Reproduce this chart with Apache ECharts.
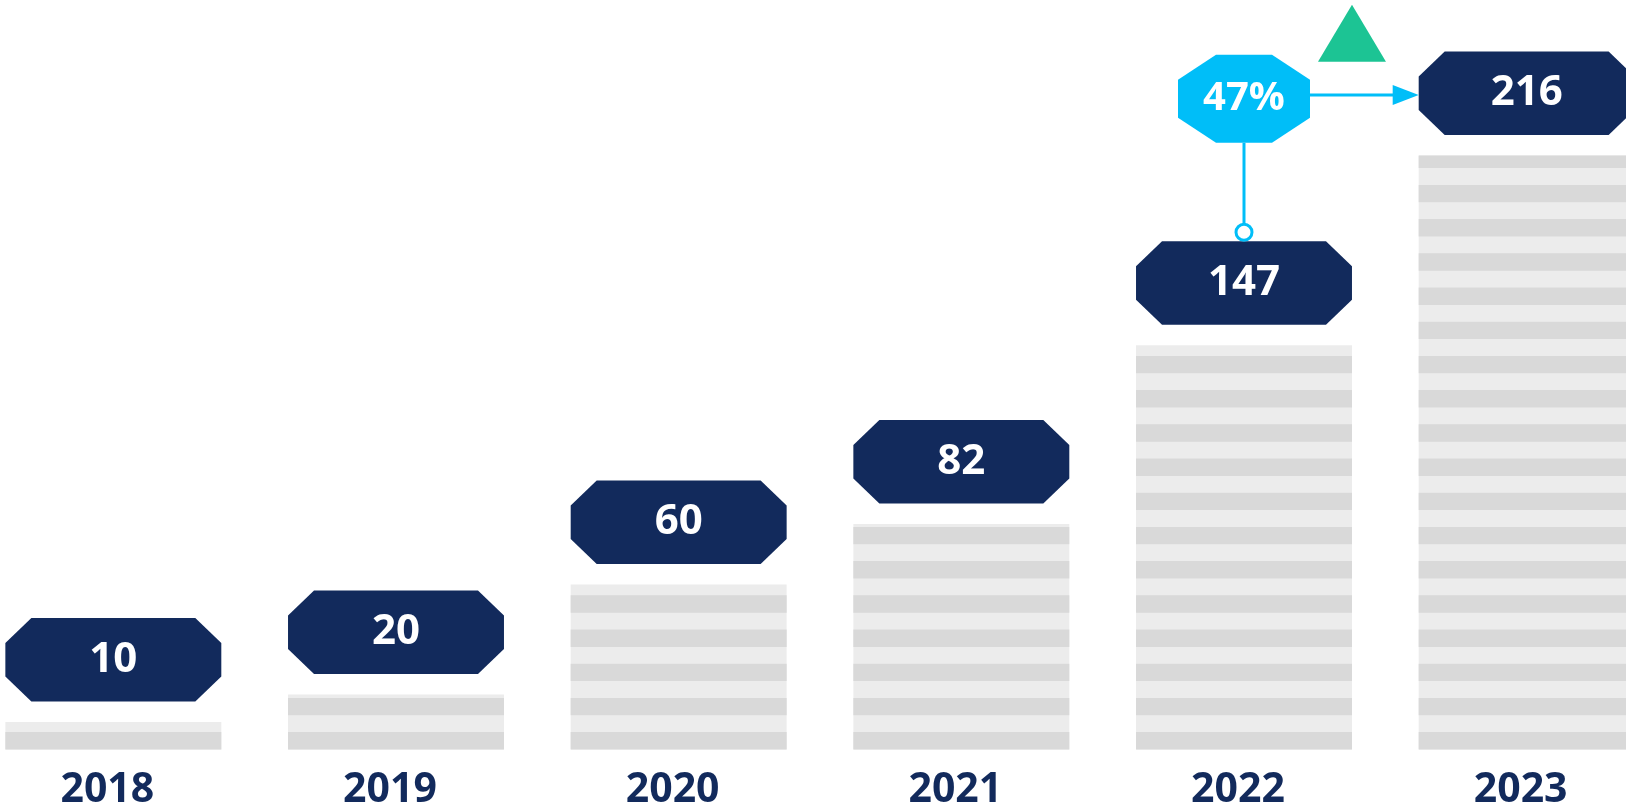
<!DOCTYPE html>
<html>
<head>
<meta charset="utf-8">
<title>2018-2023</title>
<script src="https://cdn.jsdelivr.net/npm/echarts@6/dist/echarts.min.js"></script>
<style>
    html, body { margin: 0; padding: 0; background: #fff; }
    #chart { width: 1626px; height: 809px; }
</style>
</head>
<body>
<div id="chart"></div>
<script>
var years = ['2018', '2019', '2020', '2021', '2022', '2023']
var values = [10, 20, 60, 82, 147, 216]

var navy = '#122a5c'
var cyan = '#00bef8'
var green = '#1cc494'
var stripeLight = '#ececec'
var stripeDark = '#d9d9d9'

// rectangle with cut corners, used for the value tags and the % badge
function chamferBox(cx, top, w, h, dx, dy) {
    var l = cx - w / 2, r = cx + w / 2, b = top + h
    return [[l + dx, top], [r - dx, top], [r, top + dy], [r, b - dy],
        [r - dx, b], [l + dx, b], [l, b - dy], [l, top + dy]]
}

var tagH = 83.5
var tagGap = 20.5

function renderItem(params, api) {
    var idx = params.dataIndex
    var base = api.coord([idx, 0])
    var top = api.coord([idx, api.value(1)])
    var w = api.size([1, 0])[0] * 0.764
    var cx = base[0]
    var left = cx - w / 2
    var children = []

    // bar body + stripes counted from the bottom
    children.push({ type: 'rect', shape: { x: left, y: top[1], width: w, height: base[1] - top[1] }, style: { fill: stripeLight } })
    var period = 34.2, darkH = 17.4
    for (var y = base[1]; y > top[1]; y -= period) {
        var y0 = Math.max(y - darkH, top[1])
        children.push({ type: 'rect', shape: { x: left, y: y0, width: w, height: y - y0 }, style: { fill: stripeDark } })
    }

    // value tag
    var tagTop = top[1] - tagGap - tagH
    children.push({ type: 'polygon', shape: { points: chamferBox(cx, tagTop, w, tagH, 26, 25) }, style: { fill: navy } })
    children.push({
        type: 'text',
        style: { x: cx, y: tagTop + tagH / 2, text: String(api.value(1)), fill: '#fff', font: 'bold 42px "Open Sans"', align: 'center', verticalAlign: 'middle' }
    })

    // growth annotation between the last two years
    if (idx === values.length - 1) {
        var prev = api.coord([idx - 1, values[idx - 1]])
        var pcx = prev[0]
        var prevTagTop = prev[1] - tagGap - tagH
        var tagMid = tagTop + tagH / 2
        var octW = 132, octH = 88
        var octCy = tagMid + 5.5
        var octTop = octCy - octH / 2
        var growth = Math.round((values[idx] - values[idx - 1]) / values[idx - 1] * 100)
        var arrowY = tagMid + 1.7
        var circY = prevTagTop - 9

        children.push({ type: 'line', shape: { x1: pcx, y1: octTop + octH, x2: pcx, y2: circY }, style: { stroke: cyan, lineWidth: 3 } })
        children.push({ type: 'circle', shape: { cx: pcx, cy: circY, r: 8 }, style: { fill: '#fff', stroke: cyan, lineWidth: 3 } })
        children.push({ type: 'line', shape: { x1: pcx, y1: arrowY, x2: left - 24, y2: arrowY }, style: { stroke: cyan, lineWidth: 3 } })
        children.push({ type: 'polygon', shape: { points: [[left, arrowY], [left - 26, arrowY - 10], [left - 26, arrowY + 10]] }, style: { fill: cyan } })
        children.push({ type: 'polygon', shape: { points: chamferBox(pcx, octTop, octW, octH, 38, 25) }, style: { fill: cyan } })
        children.push({
            type: 'text',
            style: { x: pcx, y: octCy, text: growth + '%', fill: '#fff', font: 'bold 40px "Open Sans"', align: 'center', verticalAlign: 'middle' }
        })
        var triX = pcx + w / 2
        var triBase = octTop + 7
        children.push({ type: 'polygon', shape: { points: [[triX, triBase - 57], [triX + 34, triBase], [triX - 34, triBase]] }, style: { fill: green } })
    }

    return { type: 'group', children: children }
}

var myChart = echarts.init(document.getElementById('chart'))
var option = {
    animation: false,
    grid: {
        left: -28,
        right: -42,
        top: 7,
        bottom: 59.5,
        containLabel: false,
        outerBoundsMode: 'none'
    },
    xAxis: {
        type: 'category',
        data: years,
        axisLine: { show: false },
        axisTick: { show: false },
        splitLine: { show: false },
        axisLabel: {
            color: navy,
            fontSize: 41,
            fontWeight: 'bold',
            fontFamily: 'Open Sans',
            margin: 20,
            padding: [0, 12, 0, 0]
        }
    },
    yAxis: {
        type: 'value',
        min: 0,
        max: 270,
        show: false,
        splitLine: { show: false }
    },
    series: [{
        type: 'custom',
        clip: false,
        renderItem: renderItem,
        data: values.map(function(v, i) { return [i, v] })
    }]
}
myChart.setOption(option)
</script>
</body>
</html>
